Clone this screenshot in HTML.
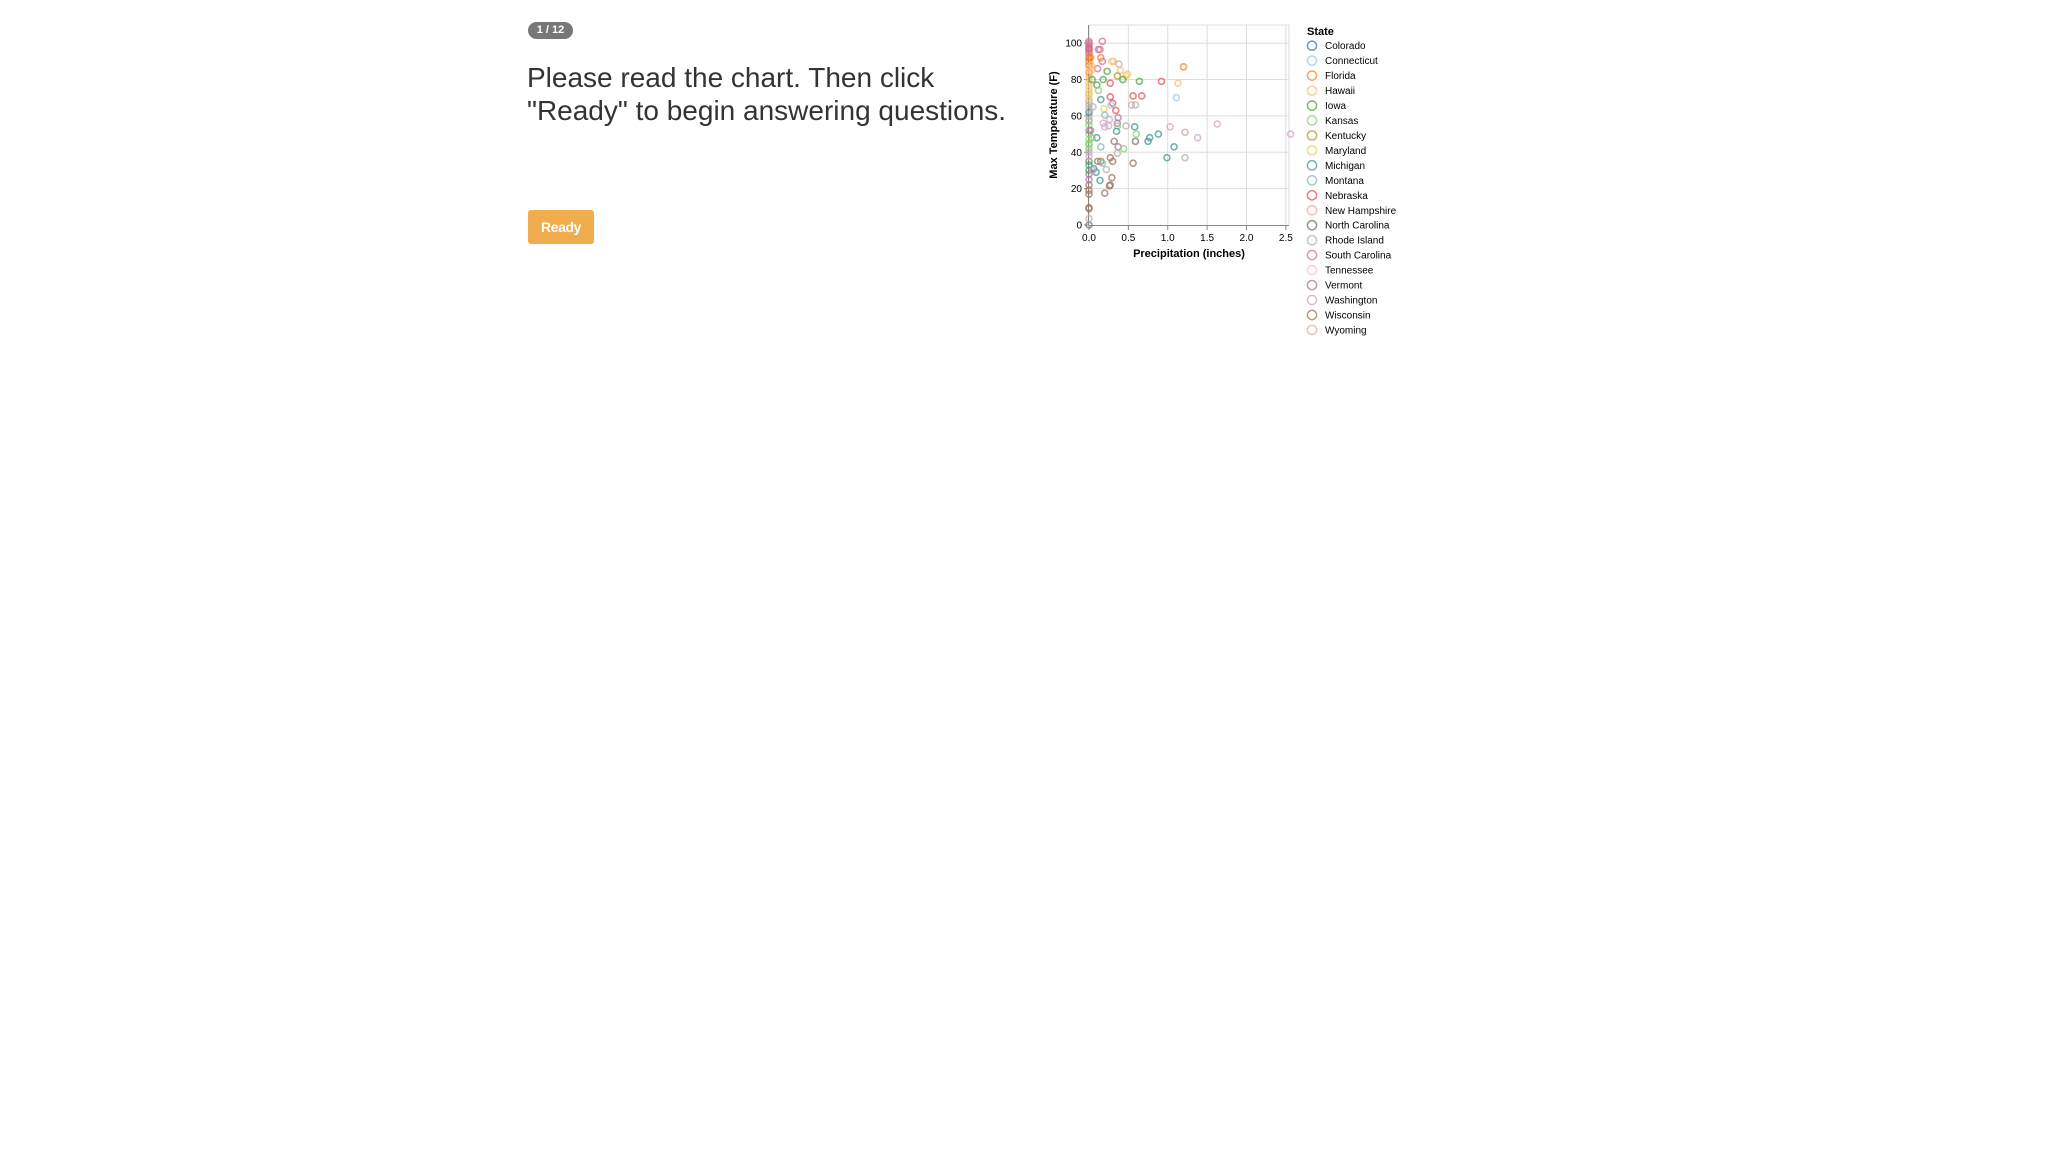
<!DOCTYPE html>
<html><head><meta charset="utf-8"><style>
html,body{margin:0;padding:0;background:#fff;width:2048px;height:1152px;overflow:hidden;font-family:"Liberation Sans",sans-serif;}
#badge{position:absolute;left:528px;top:22px;width:45px;height:17px;border-radius:9px;background:#777;color:#fff;font-size:11px;font-weight:bold;text-align:center;line-height:17px;}
#heading{position:absolute;left:527px;top:61px;font-size:28px;line-height:33px;color:#333;font-weight:300;letter-spacing:0px;}
#ready{position:absolute;left:528px;top:210px;width:66px;height:34px;border-radius:3px;background:#f0ad4e;color:#fff;font-size:14px;font-weight:bold;text-align:center;line-height:34px;letter-spacing:-0.4px;}
svg{position:absolute;left:0;top:0;}
</style></head><body>
<div id="badge">1 / 12</div>
<div id="heading">Please read the chart. Then click<br>"Ready" to begin answering questions.</div>
<div id="ready">Ready</div>
<svg id="chart" width="2048" height="1152"></svg>
<script>
const states=["Colorado","Connecticut","Florida","Hawaii","Iowa","Kansas","Kentucky","Maryland","Michigan","Montana","Nebraska","New Hampshire","North Carolina","Rhode Island","South Carolina","Tennessee","Vermont","Washington","Wisconsin","Wyoming"];
const colors=["#4c78a8","#9ecae9","#f58518","#ffbf79","#54a24b","#88d27a","#b79a20","#f2cf5b","#439894","#83bcb6","#e45756","#ff9d98","#79706e","#bab0ac","#d67195","#fcbfd2","#b279a2","#d6a5c9","#9e765f","#d8b5a5"];
const xTicks=[0,0.5,1.0,1.5,2.0,2.5];
const yTicks=[0,20,40,60,80,100];
const precip=[0.17,0.12,0.14,0.15,0.17,0.29,0.31,0.38,0.4,0.49,
0.47,1.2,0.11,0.23,0.36,0.43,0.18,0.64,0.92,1.13,
0.27,0.1,0.12,1.11,0.27,0.3,0.28,0.56,0.67,0.54,
0.59,0.15,0.34,0.19,0.2,0.37,0.36,0.26,0.25,0.18,
0.2,0.36,0.47,0.58,0.35,0.6,1.03,1.63,1.22,2.56,
0.88,0.77,0.75,1.38,0.1,0.59,0.32,0.37,0.15,0.44,
1.08,0.36,0.99,1.22,0.27,0.3,0.56,0.11,0.15,0.17,
0.06,0.09,0.22,0.29,0.14,0.27,0.26,0.2,
0,0,0,0,0,0,0,0,0,0,
0,0,0,0,0,0,0,0,0,0,
0,0,0,0,0,0,0,0,0,0,
0,0,0,0,0,0,0,0,0,0,
0,0,0,0,0,0,0,0,0,
0.02,0.03,0.05,0.04,0.03,0.02,0.05,0.04];
const maxTemp=[101,96.5,96.5,92,90,90,90,88.5,85,83,82,87,86,84.5,82,80,80,79,79,78,78,77,74,70,70.5,67,66,71,71,66,66,69,63,64,60.5,59,56,58,54.5,56,54,54.5,54.5,54,51.5,50,54,55.5,51,50,50,48,46,48,48,46,46,43,43,42,43,39.5,37,37,37,35,34,35,35,34,31,29,30.5,26,24.5,22,21.5,17.5,
0,3.5,9,9.5,17,19,22,25,28,30,33,35,38,40,42,44,47,50,52,55,57,60,62,64,66,68,70,72,74,76,78,80,82,84,86,88,90,92,94,96,98,100,101,99,97,95,45,58,72,92,85,65,48,88,52,30,80];
const stateIdx=[14,14,14,2,14,3,3,13,3,3,7,2,14,4,6,4,4,4,10,3,10,4,5,1,10,10,1,10,10,13,13,8,10,7,9,16,16,17,17,17,17,5,13,8,8,5,17,17,13,17,8,8,8,17,8,12,18,16,9,5,8,13,8,13,18,18,18,18,18,9,8,8,13,18,8,18,18,18,
12,13,18,18,18,18,18,16,16,4,8,4,17,17,5,5,5,5,16,5,5,13,0,13,13,13,7,13,7,3,3,3,3,2,3,2,2,10,2,14,14,14,14,14,10,14,5,13,7,2,3,13,5,3,16,17,4];
const svg=document.getElementById('chart');
const NS='http://www.w3.org/2000/svg';
const X0=1089,X1=1289,Y0=225,Y1=25,XMAX=2.54,YMAX=110;
const xs=v=>X0+v/XMAX*(X1-X0);
const ys=v=>Y0-v/YMAX*(Y0-Y1);
function mk(tag,attrs,parent){const e=document.createElementNS(NS,tag);for(const k in attrs)e.setAttribute(k,attrs[k]);(parent||svg).appendChild(e);return e;}
xTicks.forEach(t=>{const l=mk('line',{x1:xs(t),x2:xs(t),y1:Y1,y2:Y0,stroke:'#ddd','stroke-width':1});

});
[20,40,60,80,100].forEach(t=>{const l=mk('line',{x1:X0,x2:X1,y1:ys(t),y2:ys(t),stroke:'#ddd','stroke-width':1});

});
mk('line',{x1:X1,x2:X1,y1:Y1,y2:Y0,stroke:'#ddd'});
mk('line',{x1:X0,x2:X1,y1:Y1,y2:Y1,stroke:'#ddd'});
const xa=mk('line',{x1:X0,x2:X1,y1:Y0+0.5,y2:Y0+0.5,stroke:'#888'});


const ya=mk('line',{x1:X0-0.5,x2:X0-0.5,y1:Y1,y2:Y0,stroke:'#888'});


xTicks.forEach(t=>{mk('line',{x1:xs(t),x2:xs(t),y1:Y0,y2:Y0+5,stroke:'#888'});
const tx=mk('text',{x:xs(t),y:Y0+16,'font-size':10,'text-anchor':'middle',fill:'#000'});tx.textContent=t.toFixed(1);

});
yTicks.forEach(t=>{mk('line',{x1:X0-5,x2:X0,y1:ys(t),y2:ys(t),stroke:'#888'});
const tx=mk('text',{x:X0-7,y:ys(t)+3.5,'font-size':10,'text-anchor':'end',fill:'#000'});tx.textContent=t;

});
const xt=mk('text',{x:(X0+X1)/2,y:257,'font-size':11,'font-weight':'bold','text-anchor':'middle'});xt.textContent='Precipitation (inches)';


const yt=mk('text',{x:0,y:0,'font-size':11,'font-weight':'bold','text-anchor':'middle',transform:'translate(1057,125) rotate(-90)'});yt.textContent='Max Temperature (F)';


const n=Math.min(precip.length,maxTemp.length,stateIdx.length);
for(let i=0;i<n;i++){const si=stateIdx[i];
const c=mk('circle',{cx:xs(precip[i]),cy:ys(maxTemp[i]),r:3,fill:'none',stroke:colors[si],'stroke-width':1.6,'stroke-opacity':0.75});

}
const lt=mk('text',{x:1307,y:35,'font-size':11,'font-weight':'bold'});lt.textContent='State';


states.forEach((s,i)=>{const y=45.7+i*14.96;
const g=mk('g',{});


mk('circle',{cx:1312,cy:y,r:4.6,fill:'none',stroke:colors[i],'stroke-width':1.5,'stroke-opacity':0.75},g);
const t=mk('text',{x:1325,y:y+3.5,'font-size':10,fill:'#000'},g);t.textContent=s;});
</script>
</body></html>
